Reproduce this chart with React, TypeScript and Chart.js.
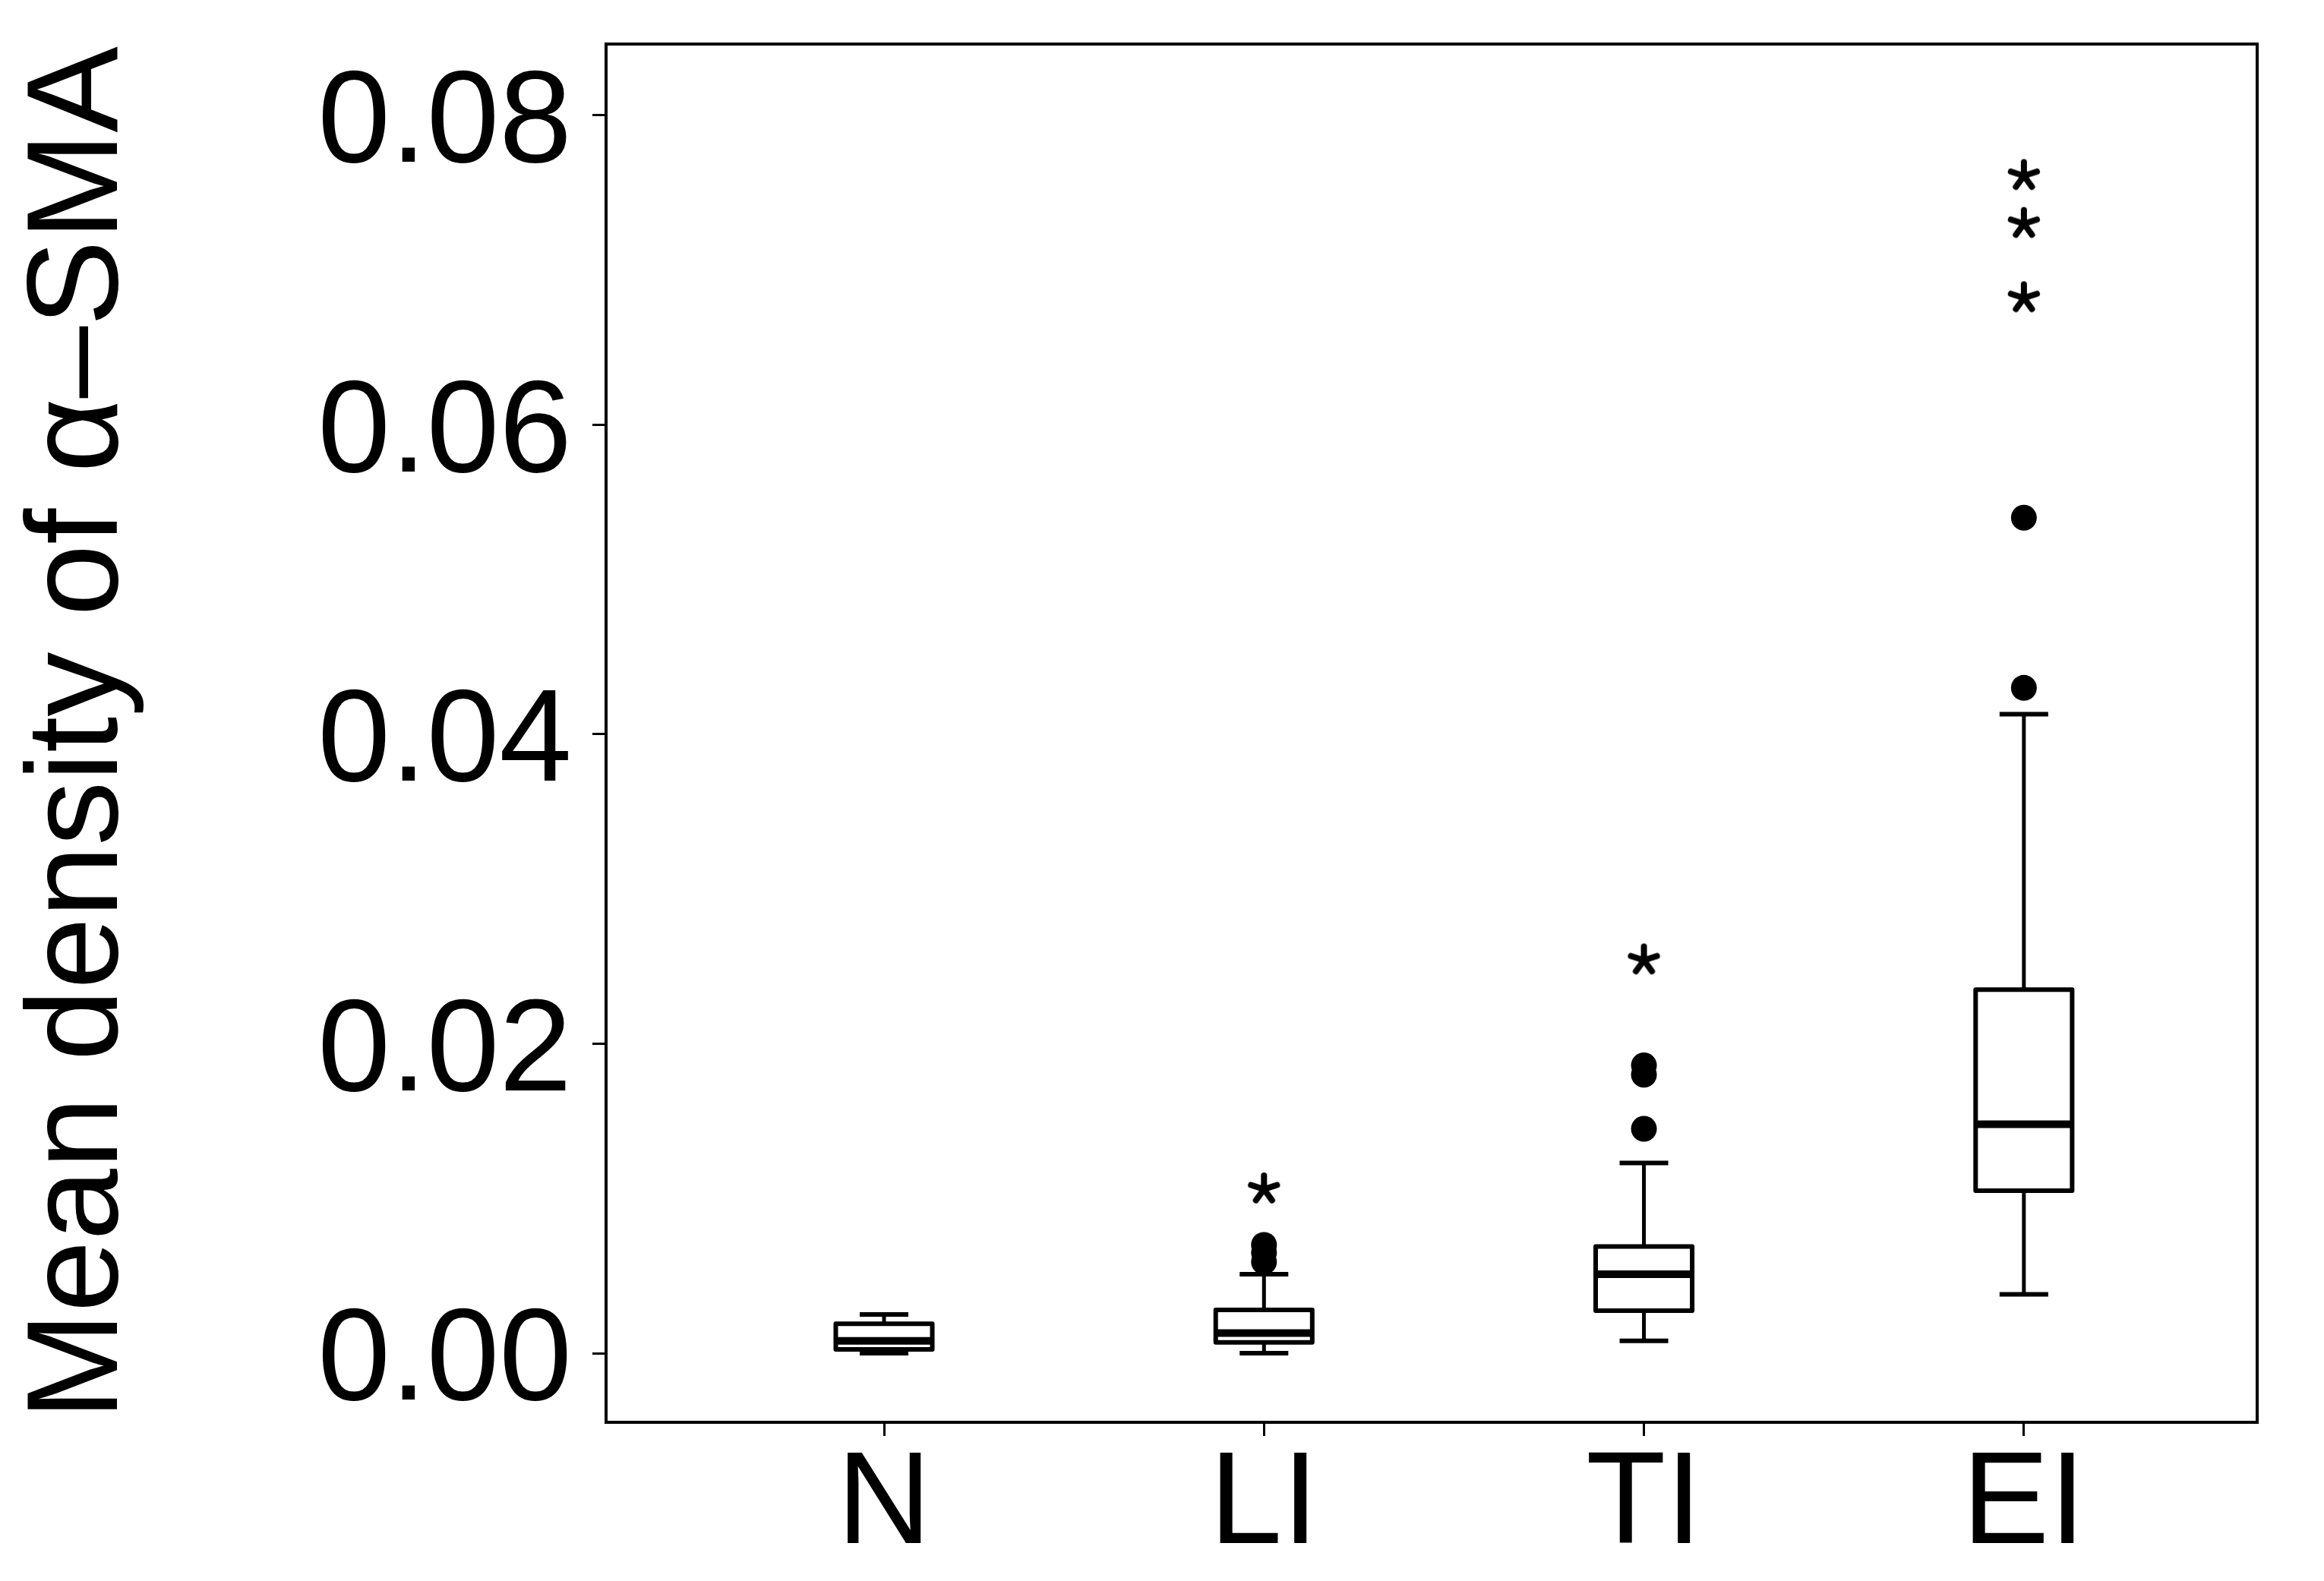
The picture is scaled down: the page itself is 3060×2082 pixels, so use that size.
import React, { useEffect, useRef } from "react";
import { Chart, registerables } from "chart.js";

Chart.register(...registerables);

// ---- Data ----
const categories = ["N", "LI", "TI", "EI"];
const whiskerLow = [0.0, 0.0, 0.0008, 0.0038];
const quartile1 = [0.00025, 0.0007, 0.00275, 0.0105];
const medians = [0.0008, 0.0013, 0.0051, 0.0148];
const quartile3 = [0.0019, 0.0028, 0.0069, 0.0235];
const whiskerHigh = [0.0025, 0.0051, 0.0123, 0.0413];
const outliersN: number[] = [];
const outliersLI = [0.007, 0.0065, 0.0059];
const outliersTI = [0.0186, 0.018, 0.0145];
const outliersEI = [0.043, 0.054];
const extremesN: number[] = [];
const extremesLI = [0.0106];
const extremesTI = [0.0254];
const extremesEI = [0.0761, 0.073, 0.0682];
const yTickValues = [0, 0.02, 0.04, 0.06, 0.08];
const yTitle = "Mean density of α–SMA";

const outlierGroups = [outliersN, outliersLI, outliersTI, outliersEI];
const extremeGroups = [extremesN, extremesLI, extremesTI, extremesEI];

const FONT = "'Liberation Sans', Arial, Helvetica, sans-serif";
const BOX_WIDTH = 0.254; // in category units
const CAP_WIDTH = 0.128;

function makeStar(): HTMLCanvasElement {
  const c = document.createElement("canvas");
  c.width = 52;
  c.height = 52;
  const g = c.getContext("2d")!;
  g.strokeStyle = "#000";
  g.lineWidth = 8;
  g.lineCap = "round";
  const cx = 26, cy = 26, r = 18;
  for (let k = 0; k < 5; k++) {
    const a = -Math.PI / 2 + (k * 2 * Math.PI) / 5;
    g.beginPath();
    g.moveTo(cx, cy);
    g.lineTo(cx + r * Math.cos(a), cy + r * Math.sin(a));
    g.stroke();
  }
  return c;
}

const boxPlugin = {
  id: "boxplots",
  beforeDatasetsDraw(chart: any) {
    const { ctx, chartArea, scales } = chart;
    const x = scales.x;
    const y = scales.y;
    ctx.save();
    ctx.beginPath();
    ctx.rect(chartArea.left, chartArea.top, chartArea.right - chartArea.left, chartArea.bottom - chartArea.top);
    ctx.clip();
    ctx.strokeStyle = "#000";
    ctx.lineCap = "butt";
    categories.forEach((_, i) => {
      const xc = x.getPixelForValue(i);
      const xl = x.getPixelForValue(i - BOX_WIDTH / 2);
      const xr = x.getPixelForValue(i + BOX_WIDTH / 2);
      const cl = x.getPixelForValue(i - CAP_WIDTH / 2);
      const cr = x.getPixelForValue(i + CAP_WIDTH / 2);
      const yLo = y.getPixelForValue(whiskerLow[i]);
      const yQ1 = y.getPixelForValue(quartile1[i]);
      const yMed = y.getPixelForValue(medians[i]);
      const yQ3 = y.getPixelForValue(quartile3[i]);
      const yHi = y.getPixelForValue(whiskerHigh[i]);
      // whiskers
      ctx.lineWidth = 5;
      ctx.beginPath();
      ctx.moveTo(xc, yQ3);
      ctx.lineTo(xc, yHi);
      ctx.moveTo(xc, yQ1);
      ctx.lineTo(xc, yLo);
      ctx.stroke();
      ctx.lineWidth = 6;
      ctx.beginPath();
      ctx.moveTo(cl, yHi);
      ctx.lineTo(cr, yHi);
      ctx.moveTo(cl, yLo);
      ctx.lineTo(cr, yLo);
      ctx.stroke();
      // box
      ctx.fillStyle = "#fff";
      ctx.fillRect(xl, yQ3, xr - xl, yQ1 - yQ3);
      ctx.lineWidth = 6;
      ctx.lineJoin = "round";
      ctx.strokeRect(xl, yQ3, xr - xl, yQ1 - yQ3);
      // median
      ctx.lineWidth = 10;
      ctx.beginPath();
      ctx.moveTo(xl, yMed);
      ctx.lineTo(xr, yMed);
      ctx.stroke();
    });
    ctx.restore();
  },
  afterDraw(chart: any) {
    const { ctx, chartArea } = chart;
    ctx.save();
    ctx.strokeStyle = "#000";
    ctx.lineWidth = 4;
    ctx.strokeRect(chartArea.left, chartArea.top, chartArea.right - chartArea.left, chartArea.bottom - chartArea.top);
    ctx.restore();
  },
};

export default function App() {
  const ref = useRef<HTMLCanvasElement>(null);

  useEffect(() => {
    if (!ref.current) return;
    const star = makeStar();
    const circleData = outlierGroups.flatMap((arr, i) => arr.map((v) => ({ x: i, y: v })));
    const starData = extremeGroups.flatMap((arr, i) => arr.map((v) => ({ x: i, y: v })));

    const chart = new Chart(ref.current, {
      type: "scatter",
      data: {
        datasets: [
          {
            label: "outliers",
            data: circleData,
            pointStyle: "circle",
            pointRadius: 17,
            pointBackgroundColor: "#000",
            pointBorderWidth: 0,
            showLine: false,
          },
          {
            label: "extremes",
            data: starData,
            pointStyle: star as any,
            pointRadius: 18,
            showLine: false,
          },
        ],
      },
      plugins: [boxPlugin],
      options: {
        animation: false,
        responsive: false,
        devicePixelRatio: 1,
        layout: { padding: { top: 58, right: 88, left: 0, bottom: 0 } },
        plugins: {
          legend: { display: false },
          tooltip: { enabled: false },
        },
        scales: {
          x: {
            type: "linear",
            min: -0.7316,
            max: 3.614,
            afterFit: (s: any) => {
              s.height = 209;
              s.paddingLeft = 0;
              s.paddingRight = 0;
            },
            afterBuildTicks: (s: any) => {
              s.ticks = categories.map((_, i) => ({ value: i }));
            },
            border: { display: false },
            grid: {
              display: true,
              drawOnChartArea: false,
              drawTicks: true,
              tickLength: 18,
              tickWidth: 3,
              tickColor: "#000",
              color: "#000",
            },
            ticks: {
              autoSkip: false,
              maxRotation: 0,
              padding: 8,
              color: "#000",
              font: { family: FONT, size: 172, lineHeight: 1 },
              callback: (v: any) => categories[Math.round(Number(v))] ?? "",
            },
          },
          y: {
            type: "linear",
            min: -0.004466,
            max: 0.084613,
            afterFit: (s: any) => {
              s.width = 798;
              s.paddingTop = 0;
              s.paddingBottom = 0;
            },
            afterBuildTicks: (s: any) => {
              s.ticks = yTickValues.map((v) => ({ value: v }));
            },
            border: { display: false },
            grid: {
              display: true,
              drawOnChartArea: false,
              drawTicks: true,
              tickLength: 18,
              tickWidth: 3,
              tickColor: "#000",
              color: "#000",
            },
            ticks: {
              padding: 27,
              labelOffset: 14,
              color: "#000",
              font: { family: FONT, size: 172, lineHeight: 1 },
              callback: (v: any) => Number(v).toFixed(2),
            },
            title: {
              display: true,
              text: yTitle,
              color: "#000",
              padding: { top: 22, bottom: 0 },
              font: { family: FONT, size: 170, lineHeight: 1 },
            },
          },
        },
      },
    });
    return () => chart.destroy();
  }, []);

  return (
    <div style={{ position: "fixed", left: 0, top: 0, width: 3060, height: 2082, background: "#fff" }}>
      <canvas ref={ref} width={3060} height={2082} style={{ width: 3060, height: 2082, display: "block" }} />
    </div>
  );
}
